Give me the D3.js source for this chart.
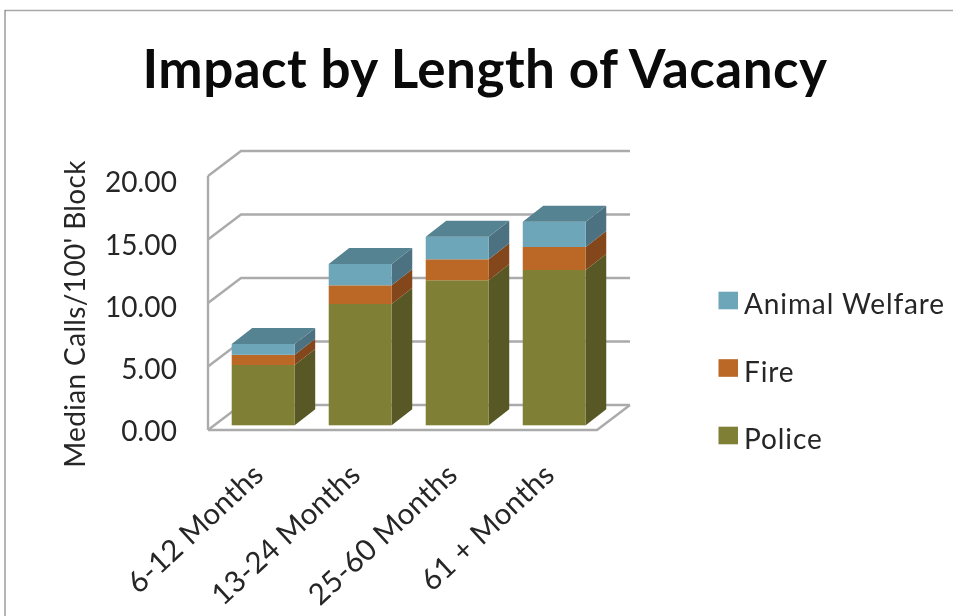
<!DOCTYPE html>
<html>
<head>
<meta charset="utf-8">
<script src="https://cdn.jsdelivr.net/npm/d3@7/dist/d3.min.js"></script>
<style>
html,body{margin:0;padding:0;background:#fff;}
svg{display:block;filter:blur(0.6px);}
text{font-family:Lato,"Open Sans",sans-serif;fill:#262626;}
</style>
</head>
<body>
<svg id="c" width="953" height="616"></svg>
<script>
const title = "Impact by Length of Vacancy";
const yTitle = "Median Calls/100' Block";
const categories = ["6-12 Months","13-24 Months","25-60 Months","61 + Months"];
const seriesNames = ["Police","Fire","Animal Welfare"];
const police = [4.75,9.55,11.42,12.23];
const fire = [0.80,1.47,1.65,1.81];
const animal = [0.85,1.68,1.78,1.99];
const yTicks = [0,5,10,15,20];
const legendOrder = ["Animal Welfare","Fire","Police"];
const frontColors = {"Police":"#7f8035","Fire":"#bb6725","Animal Welfare":"#6da6b8"};
const sideColors = {"Police":"#575825","Fire":"#84461b","Animal Welfare":"#4c7282"};
const topColor = "#568391";
const gridColor = "#ababab";

const svg = d3.select("#c");
const values = {"Police":police,"Fire":fire,"Animal Welfare":animal};
const rows = categories.map((c,i)=>{const r={category:c};seriesNames.forEach(s=>r[s]=values[s][i]);return r;});
const stacked = d3.stack().keys(seriesNames)(rows);

svg.append("line").attr("x1",5).attr("x2",953).attr("y1",10.5).attr("y2",10.5).attr("stroke","#a8a8a8").attr("stroke-width",1.6);
svg.append("line").attr("x1",5).attr("x2",5).attr("y1",10).attr("y2",616).attr("stroke","#6a6a6a").attr("stroke-width",1);

svg.append("text").attr("x",485).attr("y",87.5).attr("text-anchor","middle")
  .attr("font-size",53).attr("font-weight",700).attr("letter-spacing",0.45).style("fill","#0a0a0a").text(title);

const wall = {x0:208,x1:597,y0:430,y1:176,dx:33,dy:-25};
const y = d3.scaleLinear().domain([0,20]).range([wall.y0,wall.y1]);
const labelY = d3.scaleLinear().domain([0,20]).range([432,183]);
const barH = d3.scaleLinear().domain([0,20]).range([0,254]);
const baseY = 425.3, barDX = 20.5, barDY = -16;
const barX = d3.scaleBand().domain(categories).range([207.45,610]).paddingInner(0.3505).paddingOuter(0.25);

const g = svg.append("g").attr("fill","none").attr("stroke",gridColor).attr("stroke-width",2.4);
yTicks.forEach(t=>{
  g.append("polyline").attr("points",[[wall.x0,y(t)],[wall.x0+wall.dx,y(t)+wall.dy],[wall.x1+wall.dx,y(t)+wall.dy]].join(" "));
});
g.append("line").attr("x1",wall.x0).attr("x2",wall.x0).attr("y1",y(0)).attr("y2",y(20));
g.append("polyline").attr("points",[[wall.x0,y(0)],[wall.x1,y(0)],[wall.x1+wall.dx,y(0)+wall.dy]].join(" "));

const barY = v => baseY - barH(v);
const barsG = svg.append("g");
categories.forEach((c,i)=>{
  const bx = barX(c), w = barX.bandwidth();
  stacked.forEach(layer=>{
    const s = layer.key, [a,b] = layer[i];
    barsG.append("path").attr("fill",sideColors[s])
      .attr("d",`M${bx+w},${barY(a)}L${bx+w+barDX},${barY(a)+barDY}L${bx+w+barDX},${barY(b)+barDY}L${bx+w},${barY(b)}Z`);
    barsG.append("rect").attr("fill",frontColors[s])
      .attr("x",bx).attr("width",w).attr("y",barY(b)).attr("height",barY(a)-barY(b));
  });
  const t = stacked[stacked.length-1][i][1];
  barsG.append("path").attr("fill",topColor)
    .attr("d",`M${bx},${barY(t)}L${bx+barDX},${barY(t)+barDY}L${bx+w+barDX},${barY(t)+barDY}L${bx+w},${barY(t)}Z`);
});

const yAxis = d3.axisLeft(labelY).tickValues(yTicks).tickSize(0).tickPadding(0).tickFormat(d3.format(".2f"));
const ya = svg.append("g").attr("transform","translate(177,0)").call(yAxis);
ya.select(".domain").remove();
ya.selectAll("text").attr("font-size",28).attr("letter-spacing",0.1).style("font-family","Lato,'Open Sans',sans-serif");

svg.append("text").attr("transform","translate(85,314) rotate(-90)").attr("text-anchor","middle")
  .attr("font-size",28).attr("letter-spacing",0.35).text(yTitle);

const xAxis = d3.axisBottom(barX).tickSize(0).tickPadding(0);
const xa = svg.append("g").attr("transform","translate(0,462)").call(xAxis);
xa.select(".domain").remove();
xa.selectAll("text").attr("font-size",29.5).attr("letter-spacing",0.3).attr("text-anchor","end").attr("dy",0).attr("y",0)
  .attr("transform","translate(2,15) rotate(-43)").style("font-family","Lato,'Open Sans',sans-serif");

const ly = d3.scalePoint().domain(legendOrder).range([300.5,435.5]);
const lg = svg.append("g").selectAll("g").data(legendOrder).join("g").attr("transform",d=>`translate(0,${ly(d)})`);
lg.append("rect").attr("x",718.5).attr("y",-8.8).attr("width",19.5).attr("height",17.6).attr("fill",d=>frontColors[d]);
lg.append("text").attr("x",744).attr("y",13.5).attr("font-size",28).attr("letter-spacing",0.9).text(d=>d);
</script>
</body>
</html>
